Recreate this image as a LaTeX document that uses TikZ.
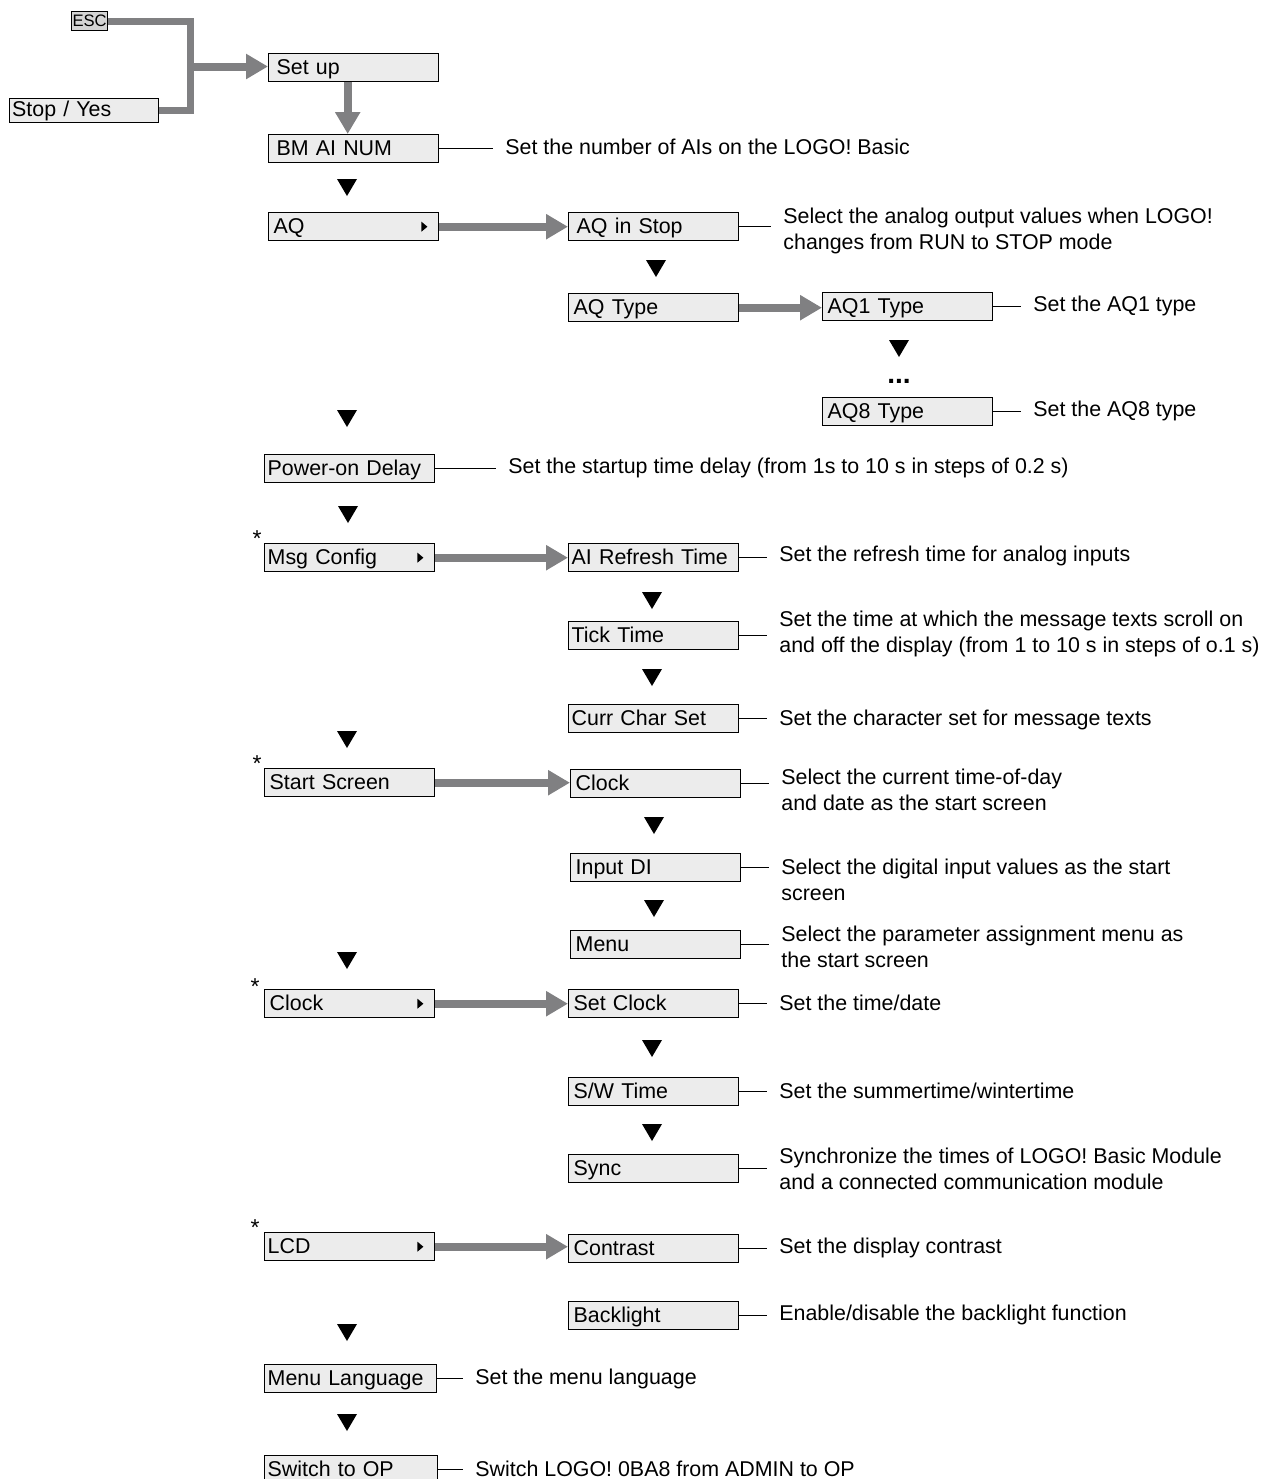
\documentclass[tikz,border=0pt]{standalone}
\usepackage{fontspec}
\setmainfont{Liberation Sans}
\usetikzlibrary{arrows.meta}
\definecolor{boxfill}{RGB}{236,236,236}
\definecolor{arrgray}{RGB}{128,128,130}
\begin{document}
\begin{tikzpicture}[x=0.5pt,y=-0.5pt,
  every node/.style={font=\fontsize{10.7}{13}\selectfont},
  box/.style={draw, fill=boxfill, line width=0.7pt, anchor=north west, minimum height=14pt, inner xsep=2.5pt, inner ysep=0pt, text width=80pt, text height=9.5pt, text depth=2.3pt, align=left},
  tpad/.style={inner xsep=1.5pt, text width=82pt},
  wpad/.style={inner xsep=4pt, text width=77pt},
  desc/.style={anchor=west, inner xsep=6pt, inner ysep=0pt, align=left},
  dline/.style={draw, line width=0.75pt},
  garrow/.style={draw=arrgray, line width=4pt, -{Triangle[length=11pt,width=12pt]}},
  gline/.style={draw=arrgray, line width=3.5pt, line join=miter},
  dtri/.pic={\fill (-10,0) -- (10,0) -- (0,17) -- cycle;},
  star/.style={inner sep=0pt, font=\fontsize{11.5}{13}\selectfont}
]
\useasboundingbox (0,0) rectangle (1268,1479);

% top entry
\node[draw, fill=boxfill!90!black, line width=0.6pt, anchor=north west, minimum width=18pt, minimum height=9.5pt, inner sep=0pt, font=\fontsize{8.3}{9}\selectfont] (esc) at (71,11) {ESC};
\node[box, text width=72pt, minimum height=12pt, inner xsep=1.25pt, text height=8.5pt, text depth=2.3pt] (stop) at (9,98) {Stop / Yes};
\node[box, wpad] (setup) at (268,53) {Set up};
\coordinate (j) at (190,66.5);
\draw[gline] (esc.east) -| (j) |- (stop.east);
\draw[garrow] (j) -- (j -| setup.west);

\node[box, wpad] (bmai) at (268,134) {BM AI NUM};
\draw[garrow] ([xshift=-3pt]setup.south) -- ([xshift=-3pt]bmai.north);
\node[desc] (dbmai) at (493,147) {Set the number of AIs on the LOGO! Basic};
\draw[dline] (bmai.east) -- (bmai.east -| dbmai.west);

% AQ
\node[box] (aq) at (268,212) {AQ};
\node[box, wpad] (aqstop) at (568,212) {AQ in Stop};
\node[box] (aqtype) at (568,293) {AQ Type};
\node[box] (aq1) at (822,292) {AQ1 Type};
\node[box] (aq8) at (822,397) {AQ8 Type};
\draw[garrow] (aq.east) -- (aq.east -| aqstop.west);
\draw[garrow] (aqtype.east) -- (aqtype.east -| aq1.west);
\node[desc] (daqstop) at (771,231) {Select the analog output values when LOGO!\\changes from RUN to STOP mode};
\draw[dline] (aqstop.east) -- (aqstop.east -| daqstop.west);
\node[desc] (daq1) at (1021,306) {Set the AQ1 type};
\draw[dline] (aq1.east) -- (aq1.east -| daq1.west);
\node[desc] (daq8) at (1021,411) {Set the AQ8 type};
\draw[dline] (aq8.east) -- (aq8.east -| daq8.west);
\node[font=\bfseries\fontsize{14}{15}\selectfont] (dots) at (899,381) {...};

% Power-on Delay
\node[box, tpad] (pod) at (264,454) {Power-on Delay};
\node[desc] (dpod) at (496,468) {Set the startup time delay (from 1s to 10 s in steps of 0.2 s)};
\draw[dline] (pod.east) -- (pod.east -| dpod.west);

% Msg Config
\node[box, tpad] (msg) at (264,543) {Msg Config};
\node[star] (s1) at (257,539) {*};
\node[box, tpad] (airef) at (568,543) {AI Refresh Time};
\node[box, tpad] (tick) at (568,621) {Tick Time};
\node[box, tpad] (curr) at (568,704) {Curr Char Set};
\draw[garrow] (msg.east) -- (msg.east -| airef.west);
\node[desc] (dairef) at (767,556) {Set the refresh time for analog inputs};
\draw[dline] (airef.east) -- (airef.east -| dairef.west);
\node[desc] (dtick) at (767,634) {Set the time at which the message texts scroll on\\and off the display (from 1 to 10 s in steps of o.1 s)};
\draw[dline] (tick.east) -- (tick.east -| dtick.west);
\node[desc] (dcurr) at (767,720) {Set the character set for message texts};
\draw[dline] (curr.east) -- (curr.east -| dcurr.west);

% Start Screen
\node[box] (ss) at (264,768) {Start Screen};
\node[star] (s2) at (257,764) {*};
\node[box] (clockr) at (570,769) {Clock};
\node[box] (indi) at (570,853) {Input DI};
\node[box] (menu) at (570,930) {Menu};
\draw[garrow] (ss.east) -- (ss.east -| clockr.west);
\node[desc] (dclockr) at (769,790) {Select the current time-of-day\\and date as the start screen};
\draw[dline] (clockr.east) -- (clockr.east -| dclockr.west);
\node[desc] (dindi) at (769,880) {Select the digital input values as the start\\screen};
\draw[dline] (indi.east) -- (indi.east -| dindi.west);
\node[desc] (dmenu) at (769,947) {Select the parameter assignment menu as\\the start screen};
\draw[dline] (menu.east) -- (menu.east -| dmenu.west);

% Clock
\node[box] (clockl) at (264,989) {Clock};
\node[star] (s3) at (255,987) {*};
\node[box] (setclock) at (568,989) {Set Clock};
\node[box] (sw) at (568,1077) {S/W Time};
\node[box] (sync) at (568,1154) {Sync};
\draw[garrow] (clockl.east) -- (clockl.east -| setclock.west);
\node[desc] (dsetclock) at (767,1003) {Set the time/date};
\draw[dline] (setclock.east) -- (setclock.east -| dsetclock.west);
\node[desc] (dsw) at (767,1091) {Set the summertime/wintertime};
\draw[dline] (sw.east) -- (sw.east -| dsw.west);
\node[desc] (dsync) at (767,1169) {Synchronize the times of LOGO! Basic Module\\and a connected communication module};
\draw[dline] (sync.east) -- (sync.east -| dsync.west);

% LCD
\node[box, tpad] (lcd) at (264,1232) {LCD};
\node[star] (s4) at (255,1228) {*};
\node[box] (contrast) at (568,1234) {Contrast};
\node[box] (backlight) at (568,1301) {Backlight};
\draw[garrow] (lcd.east) -- (lcd.east -| contrast.west);
\node[desc] (dcontrast) at (767,1248) {Set the display contrast};
\draw[dline] (contrast.east) -- (contrast.east -| dcontrast.west);
\node[desc] (dbacklight) at (767,1315) {Enable/disable the backlight function};
\draw[dline] (backlight.east) -- (backlight.east -| dbacklight.west);

% Menu Language, Switch to OP
\node[box, tpad, text width=83pt] (ml) at (264,1364) {Menu Language};
\node[desc] (dml) at (463,1379) {Set the menu language};
\draw[dline] (ml.east) -- (ml.east -| dml.west);
\node[box, tpad, text width=83.5pt] (op) at (264,1455) {Switch to OP};
\node[desc] (dop) at (463,1469) {Switch LOGO! 0BA8 from ADMIN to OP};
\draw[dline] (op.east) -- (op.east -| dop.west);

% submenu markers
\foreach \n in {aq,msg,lcd,clockl}{
  \fill ([shift={(-18,-5)}]\n.east) -- ++(6,5) -- ++(-6,5) -- cycle;
}

% down triangles
\foreach \x/\y in {347/179,656/260,899/340,347/410,348/506,652/592,652/669,347/731,654/817,654/900,347/952,652/1040,652/1124,347/1324,347/1414}{
  \pic at (\x,\y) {dtri};
}
\end{tikzpicture}
\end{document}
